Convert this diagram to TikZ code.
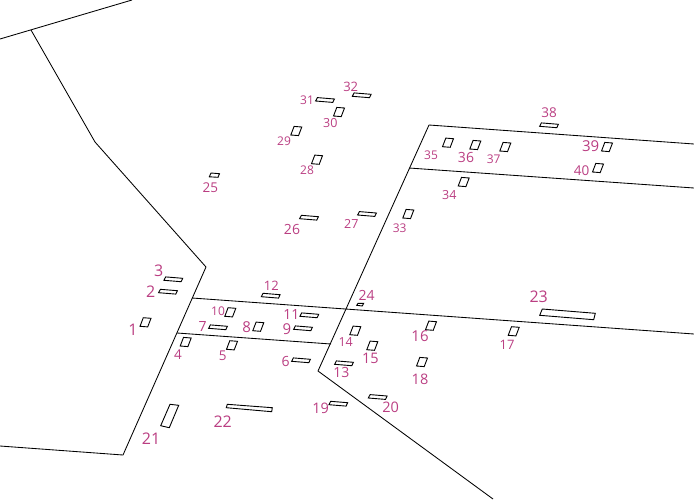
\documentclass[tikz,border=0pt]{standalone}
\usepackage{fontspec}
\setmainfont{Open Sans}
\usepackage{xcolor}
\definecolor{labelpink}{RGB}{186,62,130}

\begin{document}
\begin{tikzpicture}[
	x=1pt, y=-1pt,
	boundary/.style={
		draw=black, line width=0.85pt, line join=round
	},
	parcel/.style={
		draw=black, line width=0.9pt, fill=white, line join=miter
	},
	num_label/.style={
		text=labelpink, inner sep=0pt, anchor=center
	}
	]
	\useasboundingbox (0,0) rectangle (694,499);
	
	% === Boundaries ===
	\draw[boundary] (0,39) -- (132,0);
	\draw[boundary] (31,30) -- (95,142) -- (206,267) -- (123,455) -- (0,446);
	\draw[boundary] (192,298) -- (694,334);
	\draw[boundary] (177,333) -- (331,344);
	\draw[boundary] (694,144) -- (429,125) -- (318,371) -- (493,499);
	\draw[boundary] (409,168) -- (694,188);
	
	% === Tall parcels ===
	\foreach \i/\cx/\cy in {1/145.5/322.3, 4/185.7/342, 5/232/345.3, 8/258.3/326.7, 10/230.3/312.3,
		14/355.3/330.7, 15/372.3/345.7, 16/431/325.7, 17/513.7/331.3, 18/422/362,
		28/317/159.7, 29/296.3/131, 30/339/112, 33/408.3/214, 34/463.7/182,
		35/448/142.7, 36/475.3/145, 37/505.3/147, 39/607/147, 40/598/168} {
		\draw[parcel] ([shift={(-5.5,4)}]\cx,\cy) -- ([shift={(-2.2,-4.6)}]\cx,\cy)
			-- ([shift={(5.5,-4)}]\cx,\cy) -- ([shift={(2.2,4.6)}]\cx,\cy) -- cycle;
	}
	
	% === Wide parcels ===
	\foreach \i/\cx/\cy in {2/168/291.7, 3/173.3/279.3, 6/301/360.3, 7/218/327.3, 9/303/328.3,
		11/309.3/315.3, 12/270.7/295.7, 13/344/363.3, 19/338.3/403.7, 20/377.7/397,
		26/309/217.7, 27/367/214, 31/325/100, 32/361.7/95.3, 38/549/125.3} {
		\draw[parcel] ([shift={(-7.6,-2.4)}]\cx,\cy) -- ([shift={(9.4,-1)}]\cx,\cy)
			-- ([shift={(7.8,2.4)}]\cx,\cy) -- ([shift={(-9.4,1)}]\cx,\cy) -- cycle;
	}
	
	% === Odd sizes ===
	\draw[parcel] (211,173) -- (219.5,173.7) -- (218,177.3) -- (209.3,176.8) -- cycle; % 25
	\draw[parcel] (358,303.3) -- (363.7,303.3) -- (362.3,306) -- (356.7,305.3) -- cycle; % 24
	\draw[parcel] (170,404.3) -- (178.7,405.3) -- (169.3,427.7) -- (160.7,425.7) -- cycle; % 21
	\draw[parcel] (227.3,404.3) -- (272.3,407.7) -- (271.7,411.7) -- (226.3,407.7) -- cycle; % 22
	\draw[parcel] (542.3,309) -- (595.3,313.3) -- (593.7,319.7) -- (539.7,315.3) -- cycle; % 23
	
	% === Numbers ===
	\foreach \i/\lx/\ly/\sz in {1/133/329.3/16, 2/150.7/291.3/16, 3/158.7/271/16, 4/178/354.7/13.5,
		5/222.7/355.3/13.5, 6/285.7/361/14, 7/202.7/326.7/14, 8/246.7/327.3/15, 9/287/329.3/15,
		10/218/311/12, 11/291.3/314.7/14, 12/271.3/285.3/13, 13/341.3/372/14, 14/345.7/342/12.5,
		15/370.3/358/14.5, 16/420/336/15, 17/507/344.7/13, 18/420/379/14.5, 19/320.7/408.3/14.5,
		20/390.7/407/14.5, 21/151/438.3/16, 22/222.7/422/16, 23/538.7/296.7/16, 24/366.7/295.3/14,
		25/210.3/187.3/13.5, 26/292/229.7/14, 27/351.3/223.7/12.5, 28/307/170/12, 29/284/141/12,
		30/330.3/122.7/12.5, 31/307/100/12, 32/350.7/87/13, 33/399.7/228/12, 34/449.3/195/12.5,
		35/431/155.3/12, 36/466/157.3/14, 37/493.7/159/12, 38/549/112.3/13.5, 39/590.7/146/15,
		40/581.7/170.7/13.5} {
		\node[num_label, font=\fontsize{\sz}{\sz}\selectfont] (lab\i) at (\lx,\ly) {\i};
	}
\end{tikzpicture}
\end{document}
